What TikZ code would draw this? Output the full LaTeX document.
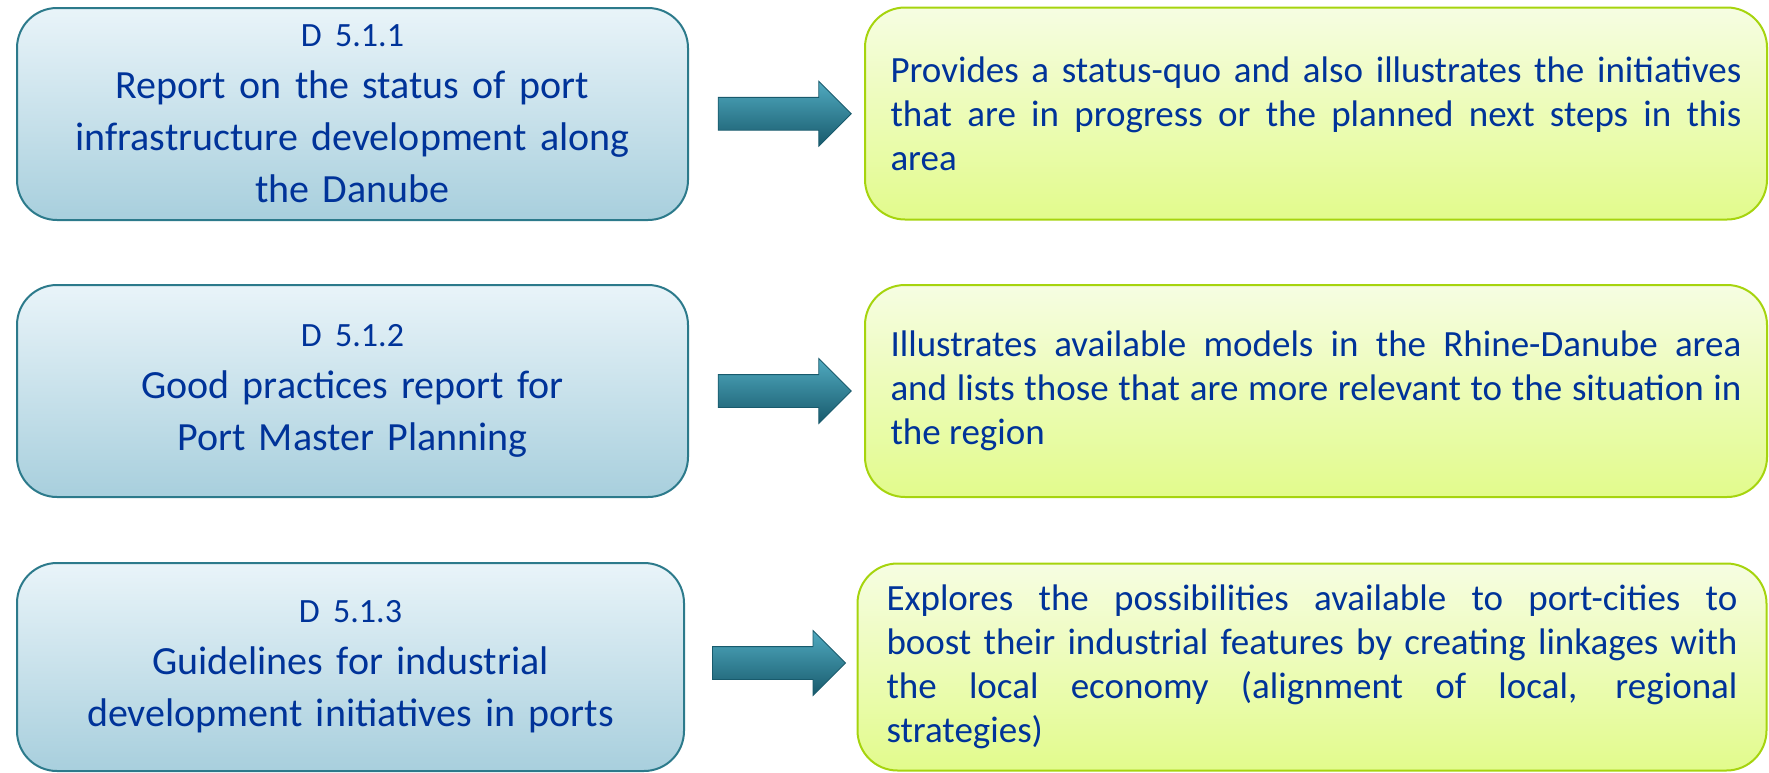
\documentclass[tikz,border=0pt]{standalone}
\usepackage{fontspec}
\setmainfont{Carlito}
\usepackage{tikz}
\usetikzlibrary{calc,shapes.arrows}
\definecolor{textblue}{RGB}{0,51,153}
\definecolor{delivtop}{RGB}{233,244,249}
\definecolor{delivbot}{RGB}{168,207,221}
\definecolor{delivline}{RGB}{44,122,139}
\definecolor{sumtop}{RGB}{246,253,226}
\definecolor{sumbot}{RGB}{226,251,140}
\definecolor{sumline}{RGB}{166,212,14}
\definecolor{arrowtop}{RGB}{80,170,192}
\definecolor{arrowmid}{RGB}{40,125,147}
\definecolor{arrowbot}{RGB}{24,90,108}
\tikzset{
  deliv/.style={rectangle, rounded corners=20pt, draw=delivline, line width=1pt,
    top color=delivtop, bottom color=delivbot, text=textblue, align=center,
    text width=320pt, minimum width=335.5pt, minimum height=106pt,
    font=\fontsize{20}{26}\selectfont},
  summary/.style={rectangle, rounded corners=20pt, draw=sumline, line width=1pt,
    top color=sumtop, bottom color=sumbot, text=textblue, align=justify,
    text width=425.5pt, minimum width=451pt, minimum height=106pt,
    font=\fontsize{18.5}{22}\selectfont},
  blockarrow/.style={single arrow, draw=arrowbot, line width=0.4pt,
    top color=arrowtop, middle color=arrowmid, bottom color=arrowbot,
    inner xsep=0pt, inner ysep=8pt,
    minimum height=66.5pt, minimum width=32pt, single arrow head extend=8pt}
}
\hyphenpenalty=10000
\begin{document}
\begin{tikzpicture}[x=0.5pt,y=-0.5pt]
\useasboundingbox (0,0) rectangle (1769,772);
% deliverables
\node[deliv] (rep1) at (352.5,114) {{\fontsize{17}{26}\selectfont D 5.1.1}\\
  Report on the status of port\\ infrastructure development along\\ the Danube};
\node[deliv] (rep2) at (352.5,391) {{\fontsize{17}{26}\selectfont D 5.1.2}\\
  Good practices report for\\ Port Master Planning};
\node[deliv, minimum width=333.5pt, minimum height=104pt] (rep3) at (350.5,667)
  {{\fontsize{17}{26}\selectfont D 5.1.3}\\
  Guidelines for industrial\\ development initiatives in ports};
% summaries
\node[summary] (desc1) at (1316,113.5) {Provides a status-quo and also
  illustrates the initiatives\linebreak that are in progress or the planned
  next steps in this\linebreak area};
\node[summary] (desc2) at (1316,391) {Illustrates available models in the
  Rhine-Danube area\linebreak and lists those that are more relevant to the
  situation in\linebreak the region};
\node[summary, minimum width=454.5pt, minimum height=103.5pt] (desc3) at (1312,667)
  {Explores the possibilities available to port-cities to\linebreak boost
  their industrial features by creating linkages with\linebreak the local
  economy (alignment of local, regional\linebreak strategies)};
% arrows
\node[blockarrow] (arr1) at ($(rep1.east)!0.5!(desc1.west)$) {};
\node[blockarrow] (arr2) at ($(rep2.east)!0.5!(desc2.west)$) {};
\node[blockarrow, yshift=2pt] (arr3) at ($(rep3.east)!0.5!(desc3.west)$) {};
\end{tikzpicture}
\end{document}
